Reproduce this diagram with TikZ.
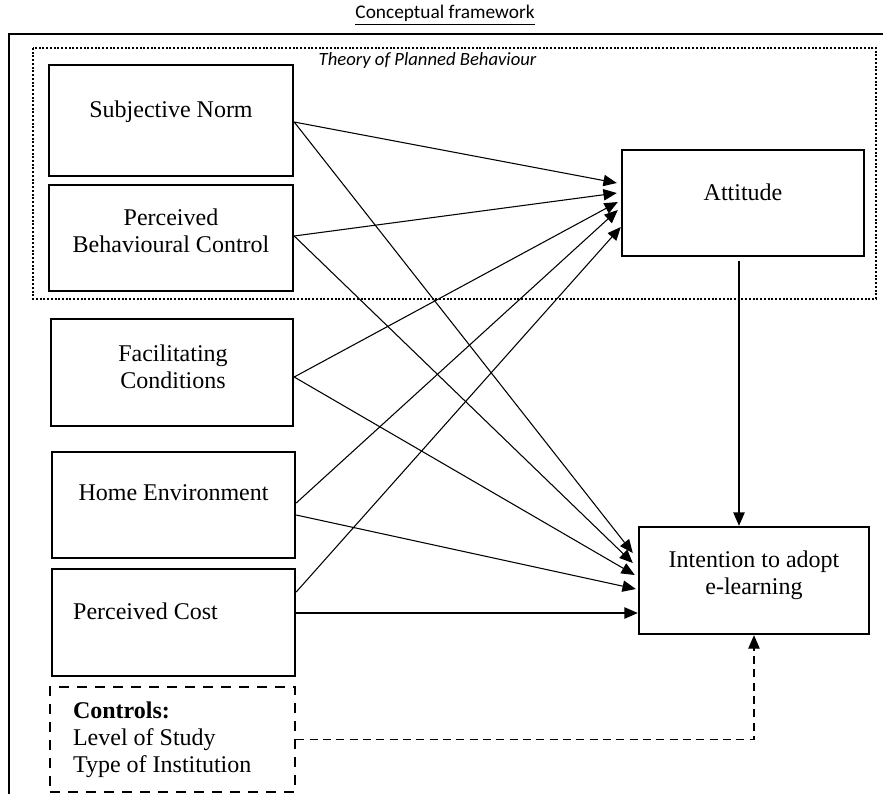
\documentclass[tikz,border=0pt]{standalone}
\usepackage{fontspec}
\setmainfont{Liberation Serif}
\newfontfamily\calibrifont{Carlito}
\usetikzlibrary{calc,arrows.meta}

\begin{document}
\begin{tikzpicture}[x=0.75pt,y=-0.75pt,
font=\fontsize{18}{20.25}\selectfont
]
    \tikzstyle{var box}=[draw,line width=1.8pt,minimum width=182.25pt,minimum height=80pt,inner sep=0]
    \tikzstyle{box text}=[align=center,inner sep=0]
    \tikzstyle{path arrow}=[line width=0.8pt,-{Triangle[length=10pt,width=8.5pt]}]
    \tikzstyle{control link}=[line width=0.8pt,dash pattern=on 6pt off 4pt,-{Triangle[length=10pt,width=8.5pt]}]
    \useasboundingbox (0,0) rectangle (883,794);

    % frame and title
    \coordinate(corner) at (9,34);
    \draw[line width=1.8pt] (883,34) -- (corner) -- (9,794);
    \node(title) at (445,15) {\fontsize{14.5}{17}\selectfont\calibrifont\underline{Conceptual framework}};

    % theory of planned behaviour
    \draw[line width=1.5pt,dash pattern=on 1.5pt off 1.3pt] (33,48) rectangle (876,299);
    \node(tpb)[anchor=west] at (314,61) {\fontsize{14}{17}\selectfont\calibrifont\itshape Theory of Planned Behaviour};

    % predictors
    \node(sn)[var box,minimum width=183pt,minimum height=83.25pt] at (171,120.5) {};
    \node(sn-t)[box text] at ($(sn)+(0,-8.5)$) {Subjective Norm};
    \node(pbc)[var box,minimum width=183pt,minimum height=79.5pt] at (171,238) {};
    \node(pbc-t)[box text] at ($(pbc)+(0,-7)$) {Perceived\\Behavioural Control};
    \node(fc)[var box,minimum width=181.5pt,minimum height=80.25pt] at (172,372.5) {};
    \node(fc-t)[box text] at ($(fc)+(1,-6)$) {Facilitating\\Conditions};
    \node(he)[var box,minimum height=79.5pt] at (173.5,505) {};
    \node(he-t)[box text] at ($(he)+(0,-12)$) {Home Environment};
    \node(pc)[var box,minimum height=80.25pt] at (173.5,622.5) {};
    \node(pc-t)[box text] at ($(pc)+(-28,-11)$) {Perceived Cost};

    % controls
    \node(ctl)[var box,dash pattern=on 7.5pt off 6pt,minimum width=183.75pt,minimum height=78.75pt] at (172.5,739.5) {};
    \node(ctl-t)[box text,align=left,anchor=west] at ($(ctl.west)+(24,0)$) {\textbf{Controls:}\\Level of Study\\Type of Institution};

    % outcomes
    \node(att)[var box,minimum width=181.5pt,minimum height=79.5pt] at (743,203) {};
    \node(att-t)[box text] at ($(att)+(0,-11)$) {Attitude};
    \node(int)[var box,minimum width=172.5pt,minimum height=80.25pt] at (754,580.5) {};
    \node(int-t)[box text] at ($(int)+(0,-5.5)$) {Intention to adopt\\e-learning};

    % paths to attitude
    \draw[path arrow] ($(sn.east)+(0,1.5)$) -- ($(att.west)+(-4,-20)$);
    \draw[path arrow] ($(pbc.east)+(0,-2)$) -- ($(att.west)+(-4,-10)$);
    \draw[path arrow] ($(fc.east)+(0,4.5)$) -- ($(att.west)+(-3,-1)$);
    \draw[path arrow] ($(he.east)+(0,-2)$) -- ($(att.west)+(-3,7)$);
    \draw[path arrow] ($(pc.east)+(0,-30.5)$) -- ($(att.west)+(0,24)$);
    % paths to intention
    \draw[path arrow] ($(sn.east)+(0,1.5)$) -- ($(int.west)+(-5,-27.5)$);
    \draw[path arrow] ($(pbc.east)+(0,-2)$) -- ($(int.west)+(-5,-17.5)$);
    \draw[path arrow] ($(fc.east)+(0,4.5)$) -- ($(int.west)+(-3,-5.5)$);
    \draw[path arrow] ($(he.east)+(0,10)$) -- ($(int.west)+(-2,8.5)$);
    \draw[path arrow] ($(pc.east)+(0,-9.5)$) -- ($(int.west)+(0,32.5)$);
    \draw[path arrow] ($(att.south)+(-4,4)$) -- ($(int.north)+(-15,0)$);
    \draw[control link] (ctl.east) -| (int.south);
\end{tikzpicture}
\end{document}
